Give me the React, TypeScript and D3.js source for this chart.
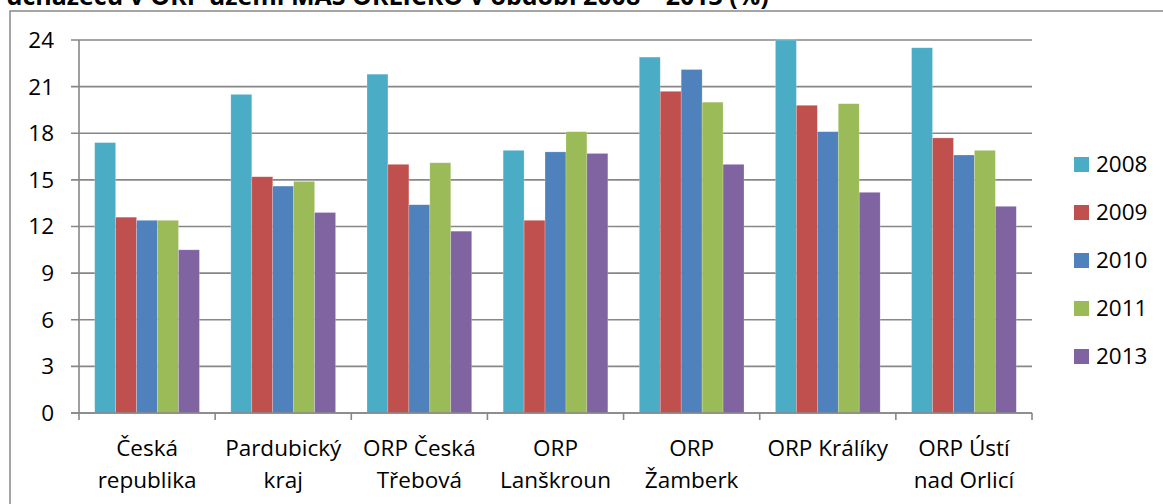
import React from "react";
import * as d3 from "d3";

const categories: string[][] = [
  ["Česká", "republika"],
  ["Pardubický", "kraj"],
  ["ORP Česká", "Třebová"],
  ["ORP", "Lanškroun"],
  ["ORP", "Žamberk"],
  ["ORP Králíky"],
  ["ORP Ústí", "nad Orlicí"],
];
const seriesNames = ["2008", "2009", "2010", "2011", "2013"];
const v2008 = [17.4, 20.5, 21.8, 16.9, 22.9, 24.0, 23.5];
const v2009 = [12.6, 15.2, 16.0, 12.4, 20.7, 19.8, 17.7];
const v2010 = [12.4, 14.6, 13.4, 16.8, 22.1, 18.1, 16.6];
const v2011 = [12.4, 14.9, 16.1, 18.1, 20.0, 19.9, 16.9];
const v2013 = [10.5, 12.9, 11.7, 16.7, 16.0, 14.2, 13.3];
const yTicks = [0, 3, 6, 9, 12, 15, 18, 21, 24];
const colors = ["#4BACC6", "#C0504D", "#4F81BD", "#9BBB59", "#8064A2"];
const title = "uchazečů v ORP území MAS ORLICKO v období 2008 – 2013 (%)";

const W = 1163;
const H = 504;
const FONT = "'Open Sans', 'Noto Sans', sans-serif";
const FS = 22.5;

export default function App() {
  const series = [v2008, v2009, v2010, v2011, v2013];
  const left = 79, right = 1032, top = 40, bottom = 413;
  const x0 = d3
    .scaleBand<number>()
    .domain(d3.range(categories.length))
    .range([left, right])
    .paddingInner(0)
    .paddingOuter(0);
  // Excel-style gap width of 150%: five bars plus 1.5 bar widths of gap
  const bw = x0.bandwidth() / (seriesNames.length + 1.5);
  const x1 = d3
    .scaleBand<number>()
    .domain(d3.range(seriesNames.length))
    .range([bw * 0.75, bw * 0.75 + bw * seriesNames.length])
    .padding(0);
  const y = d3.scaleLinear().domain([0, 24]).range([bottom, top]);
  const gridColor = "#878787";

  return (
    <svg
      width={W}
      height={H}
      style={{ position: "absolute", left: 0, top: 0, background: "#fff" }}
    >
      <text
        x={6}
        y={5}
        fontFamily={FONT}
        fontWeight="bold"
        fontSize={25}
        fill="#000"
      >
        {title}
      </text>
      <rect
        x={10}
        y={11}
        width={W + 20}
        height={H + 20}
        fill="none"
        stroke="#888"
        strokeWidth={1.5}
      />
      {yTicks.map((t) => (
        <g key={t}>
          <line
            x1={left - 8}
            x2={right}
            y1={y(t)}
            y2={y(t)}
            stroke={gridColor}
            strokeWidth={1.6}
          />
          <text
            x={54}
            y={y(t)}
            dy="0.35em"
            textAnchor="end"
            fontFamily={FONT}
            fontSize={FS}
            fill="#000"
          >
            {t}
          </text>
        </g>
      ))}
      {categories.map((c, i) => {
        const gx = x0(i)!;
        return (
          <g key={i}>
            {series.map((s, j) => (
              <rect
                key={j}
                x={gx + x1(j)!}
                y={y(s[i])}
                width={x1.bandwidth()}
                height={y(0) - y(s[i])}
                fill={colors[j]}
                stroke="rgba(255,255,255,0.35)"
                strokeWidth={0.6}
              />
            ))}
          </g>
        );
      })}
      <line x1={left} x2={left} y1={top} y2={bottom} stroke={gridColor} strokeWidth={1.6} />
      <line x1={left - 8} x2={right} y1={bottom} y2={bottom} stroke={gridColor} strokeWidth={1.6} />
      {d3.range(categories.length + 1).map((i) => {
        const tx = left + i * x0.bandwidth();
        return (
          <line key={i} x1={tx} x2={tx} y1={bottom} y2={bottom + 7} stroke={gridColor} strokeWidth={1.6} />
        );
      })}
      {categories.map((c, i) => {
        const cx = x0(i)! + x0.bandwidth() / 2;
        return (
          <text
            key={i}
            textAnchor="middle"
            fontFamily={FONT}
            fontSize={FS}
            fill="#000"
          >
            {c.map((line, k) => (
              <tspan key={k} x={cx} y={456 + k * 32}>
                {line}
              </tspan>
            ))}
          </text>
        );
      })}
      {seriesNames.map((n, j) => {
        const cy = 164.5 + j * 48;
        return (
          <g key={n}>
            <rect x={1074} y={cy - 7.5} width={15} height={15} fill={colors[j]} />
            <text
              x={1096}
              y={cy}
              dy="0.35em"
              fontFamily={FONT}
              fontSize={FS}
              fill="#000"
            >
              {n}
            </text>
          </g>
        );
      })}
    </svg>
  );
}
